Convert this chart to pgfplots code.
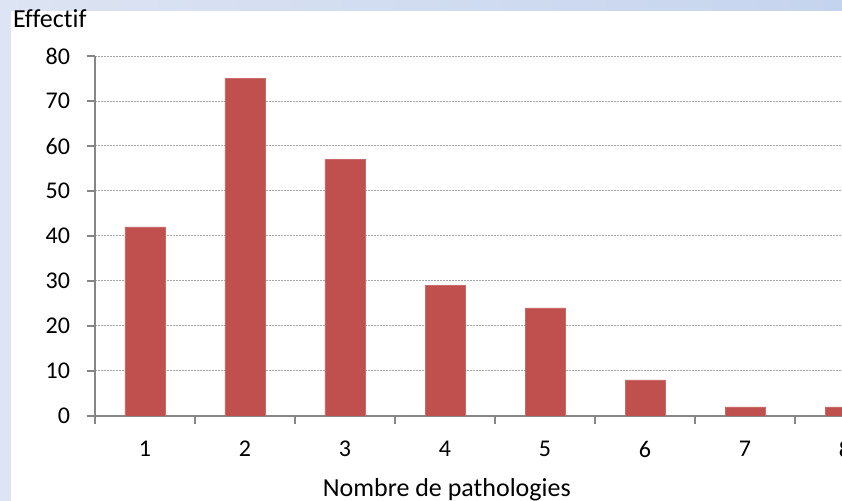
\documentclass[border=0pt]{standalone}
\usepackage{pgfplots}
\pgfplotsset{compat=1.18}
\usepackage{fontspec}
\setmainfont{Carlito}[Ligatures=NoCommon]
\definecolor{barred}{HTML}{C0504D}
\definecolor{axgray}{HTML}{868686}
\definecolor{bgleft}{HTML}{DDE4F3}
\definecolor{bgright}{HTML}{C5D4EE}
\begin{document}
\begin{tikzpicture}
\useasboundingbox (0,0) rectangle (421pt,250.5pt);
\clip (0,0) rectangle (421pt,250.5pt);
\shade[left color=bgleft,right color=bgright] (0,0) rectangle (421pt,250.5pt);
\fill[white] (5.5pt,0) rectangle (421pt,245pt);
\begin{axis}[
  at={(47.5pt,42.5pt)}, anchor=south west,
  scale only axis, width=373.5pt, height=180pt,
  xmin=0.5, xmax=7.97, ymin=0, ymax=80,
  axis lines=left,
  axis line style={-, draw=axgray, line width=0.6pt},
  ytick={0,10,...,80},
  xtick={1,...,8},
  minor xtick={0.5,1.5,...,7.5},
  major x tick style={draw=none},
  minor x tick style={draw=axgray, line width=0.6pt},
  y tick style={draw=axgray, line width=0.6pt},
  tick align=outside,
  major tick length=4pt, minor tick length=4pt,
  ymajorgrids,
  major y grid style={dash pattern=on 1pt off 0.5pt, draw=gray!70, line width=0.5pt},
  tick label style={font=\fontsize{12}{14}\selectfont},
  /pgf/number format/assume math mode=true,
  yticklabel style={xshift=-5pt},
  xticklabel style={yshift=-5pt},
  xlabel={Nombre de pathologies},
  xlabel style={font=\fontsize{13}{15}\selectfont, at={(rel axis cs:0.471,0)}, anchor=center, yshift=-37pt},
  ylabel={Effectif},
  ylabel style={font=\fontsize{13}{15}\selectfont, rotate=-90, at={(rel axis cs:0,1)}, anchor=west, xshift=-44.5pt, yshift=18.5pt},
]
\addplot[ybar, bar width=20pt, fill=barred, draw=barred!85!white] coordinates {
(1,42) (2,75) (3,57) (4,29) (5,24) (6,8) (7,2) (8,2)
};
\coordinate (c8) at (axis cs:8,0);
\end{axis}
\node[font=\fontsize{12}{14}\selectfont, anchor=north, yshift=-9pt] at (c8) {8};
\end{tikzpicture}
\end{document}
